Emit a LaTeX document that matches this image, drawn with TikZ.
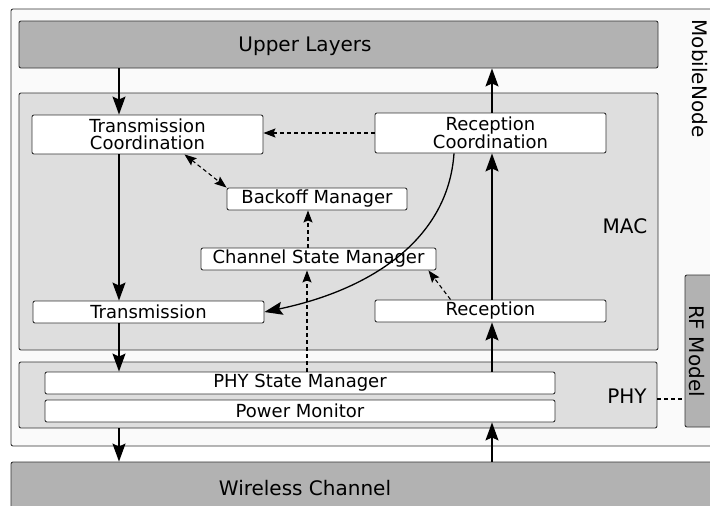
\documentclass[tikz,border=0pt]{standalone}
\usepackage{fontspec}
\setmainfont{DejaVu Sans}
\usetikzlibrary{arrows.meta}

\begin{document}
\begin{tikzpicture}[x=1pt, y=-1pt,
every node/.style={inner sep=1pt, font=\fontsize{18}{17}\selectfont},
box/.style={draw=black!80, fill=white, rounded corners=2pt, line width=0.9pt},
layer/.style={draw=black!80, fill=black!30, rounded corners=2pt, line width=0.9pt},
part/.style={draw=black!80, fill=black!13, rounded corners=2pt, line width=0.9pt},
big/.style={font=\fontsize{20}{22}\selectfont},
flow/.style={line width=1.3pt, >={Stealth[length=18pt,width=13pt,inset=3pt]}, ->},
hint/.style={line width=1.1pt, dash pattern=on 4pt off 3pt, >={Stealth[length=12pt,width=9pt,inset=2pt]}}
]
\clip (0,0) rectangle (710,506);

\node[part, fill=black!2, minimum width=729, minimum height=437] (mobile) at (375.5,227.5) {};
\node[big, rotate=-90] (mobilelabel) at (700,78.5) {MobileNode};

\node[layer, minimum width=639, minimum height=47] (upper) at (338.5,44.5) {};
\node[big] (upperlabel) at (305,46) {Upper Layers};

\node[part, minimum width=639, minimum height=257] (mac) at (338.5,221.5) {};
\node[big] (maclabel) at (625,226) {MAC};
\node[box, minimum width=231, minimum height=39, align=center] (txcoord) at (147.5,134.5) {Transmission\\Coordination};
\node[box, minimum width=231, minimum height=40, align=center] (rxcoord) at (490.5,133) {Reception\\Coordination};
\node[box, minimum width=180, minimum height=22] (backoff) at (317,199) {Backoff Manager};
\node[box, minimum width=235, minimum height=22] (chstate) at (318.5,259) {Channel State Manager};
\node[box, minimum width=231, minimum height=22] (tx) at (148.5,312) {Transmission};
\node[box, minimum width=231, minimum height=22] (rx) at (490.5,311) {Reception};

\node[part, minimum width=638, minimum height=66] (phy) at (338,395) {};
\node[big] (phylabel) at (627,396) {PHY};
\node[box, minimum width=510, minimum height=22] (phystate) at (300,383) {PHY State Manager};
\node[box, minimum width=510, minimum height=22] (power) at (300,411) {Power Monitor};

\node[layer, minimum width=60, minimum height=152] (rf) at (715,351) {};
\node[big, rotate=-90] (rflabel) at (697,351) {RF Model};

\node[layer, minimum width=729, minimum height=78] (channel) at (375.5,501) {};
\node[big] (channellabel) at (305,488) {Wireless Channel};

\coordinate (txl) at (119,0);
\coordinate (rxl) at (492,0);

\foreach \a/\b/\c in {upper.south/txcoord.north/txl, txcoord.south/tx.north/txl,
                      tx.south/phystate.north/txl, phy.south/channel.north/txl,
                      channel.north/power.south/rxl, phystate.north/rx.south/rxl,
                      rx.north/rxcoord.south/rxl, rxcoord.north/upper.south/rxl}
    \draw [flow] (\a -| \c) -- (\b -| \c);

\draw [flow] ([xshift=-36.5pt]rxcoord.south) .. controls (448,240) and (370,290) .. (tx.east);

\draw [hint, ->] (rxcoord.west) -- (rxcoord.west -| txcoord.east);
\draw [hint, <->] ([xshift=37pt]txcoord.south) -- (backoff.north west);
\draw [hint, ->] ([xshift=-10.5pt]chstate.north) -- ([xshift=-9pt]backoff.south);
\draw [hint, ->] ([xshift=7pt]phystate.north) -- ([xshift=-11.5pt]chstate.south);
\draw [hint, ->] ([xshift=-40pt]rx.north) -- ([xshift=-8pt]chstate.south east);
\draw [hint] ([yshift=-4pt]phy.east) -- ([yshift=-4pt]phy.east -| rf.west);

\end{tikzpicture}
\end{document}
